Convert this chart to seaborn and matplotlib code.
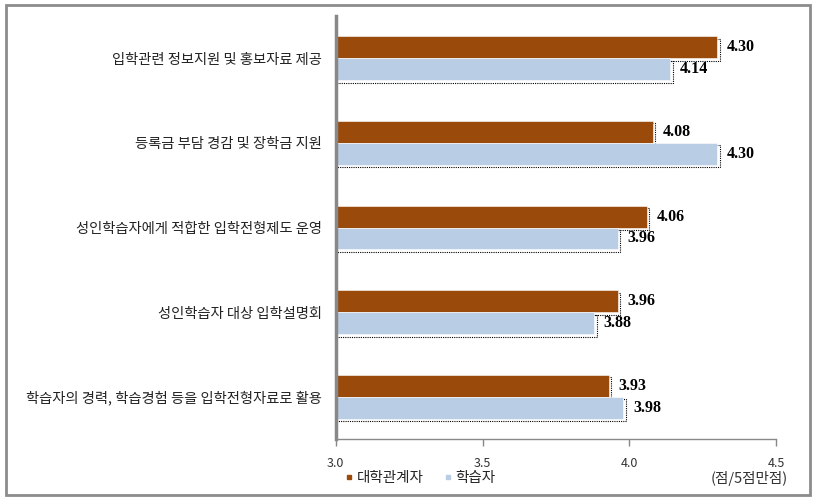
import numpy as np
import pandas as pd
import seaborn as sns
import matplotlib.pyplot as plt
from matplotlib.patches import Rectangle
from matplotlib.lines import Line2D
import matplotlib.transforms as mtransforms

# data
items = ['입학관련 정보지원 및 홍보자료 제공',
         '등록금 부담 경감 및 장학금 지원',
         '성인학습자에게 적합한 입학전형제도 운영',
         '성인학습자 대상 입학설명회',
         '학습자의 경력, 학습경험 등을 입학전형자료로 활용']
staff = [4.30, 4.08, 4.06, 3.96, 3.93]
learner = [4.14, 4.30, 3.96, 3.88, 3.98]
groups = ['대학관계자', '학습자']
colors = ['#9A4A0B', '#B9CDE5']

df = pd.DataFrame({
    'item': items * 2,
    'score': staff + learner,
    'group': [groups[0]] * len(items) + [groups[1]] * len(items),
})

sns.set_theme(style='white')
plt.rcParams['font.family'] = ['Noto Sans CJK KR', 'DejaVu Sans']

fig = plt.figure(figsize=(8.19, 5.0), dpi=100)
ax = fig.add_axes([0.410, 0.122, 0.5375, 0.846])

sns.barplot(data=df, y='item', x='score', hue='group', orient='h',
            palette=colors, saturation=1, width=0.52, ax=ax, legend=False,
            edgecolor='white', linewidth=0.4)

# dotted shadow behind each bar
off = mtransforms.offset_copy(ax.transData, fig=fig, x=2.5, y=-2.5, units='dots')
for p in list(ax.patches):
    sh = Rectangle((p.get_x(), p.get_y()), p.get_width(), p.get_height(),
                   transform=off, facecolor='none', edgecolor='black',
                   linestyle=(0, (1, 1)), linewidth=0.8, zorder=p.get_zorder() - 0.5)
    ax.add_patch(sh)

for c in ax.containers:
    ax.bar_label(c, fmt='%.2f', padding=7, fontsize=11.5, fontweight='bold',
                 family='Liberation Serif', color='black')

ax.set_xlim(3.0, 4.5)
ax.set_xticks([3.0, 3.5, 4.0, 4.5])
ax.set_xticklabels(['3.0', '3.5', '4.0', '4.5'], fontsize=9, color='#333333')
ax.set_xlabel('')
ax.set_ylabel('')
ax.tick_params(axis='y', length=0, pad=10, labelsize=10.3)
ax.tick_params(axis='x', bottom=True, direction='out', length=5, width=1,
               color='#888888', pad=8)
for lab in ax.get_yticklabels():
    lab.set_color('#222222')

sns.despine(ax=ax, top=True, right=True)
ax.spines['left'].set_color('#888888')
ax.spines['left'].set_linewidth(2.5)
ax.spines['bottom'].set_color('#888888')
ax.spines['bottom'].set_linewidth(1)
ax.grid(False)

# legend
handles = [Line2D([0], [0], marker='s', linestyle='none', markersize=3.5,
                  markerfacecolor=col, markeredgecolor=col) for col in colors]
fig.legend(handles, groups, loc='center left', bbox_to_anchor=(0.405, 0.044),
           ncol=2, frameon=False, fontsize=10.5, handletextpad=0.2,
           columnspacing=1.4, handlelength=0.6)

fig.text(0.962, 0.044, '(점/5점만점)', ha='right', va='center', fontsize=10.5,
         color='#333333')

# outer frame
fig.patches.append(Rectangle((0.007, 0.01), 0.982, 0.98, transform=fig.transFigure,
                             fill=False, edgecolor='#8C8C8C', linewidth=2))

fig.savefig('out.png', dpi=100)
